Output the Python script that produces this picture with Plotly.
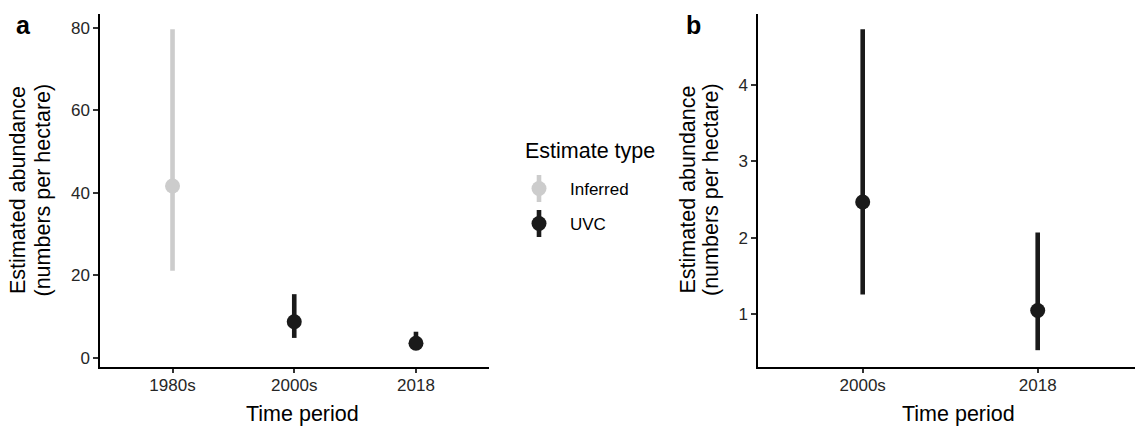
import plotly.graph_objects as go

# ---- data ----
periods_a = ["1980s", "2000s", "2018"]
types_a = ["Inferred", "UVC", "UVC"]
est_a = [41.6, 8.7, 3.5]
upper_a = [79.6, 15.4, 6.3]
lower_a = [21.1, 4.8, 2.0]

periods_b = ["2000s", "2018"]
est_b = [2.47, 1.05]
upper_b = [4.73, 2.07]
lower_b = [1.26, 0.53]

ticks_a = [0, 20, 40, 60, 80]
ticks_b = [1, 2, 3, 4]

legend_labels = ["Inferred", "UVC"]
colors = {"Inferred": "#CCCCCC", "UVC": "#1A1A1A"}

FONT = "Liberation Sans, Arial, sans-serif"
W, H = 1135, 427

fig = go.Figure()

# panel a: one trace per estimate type
for t in legend_labels:
    idx = [i for i, tt in enumerate(types_a) if tt == t]
    fig.add_trace(go.Scatter(
        x=[periods_a[i] for i in idx],
        y=[est_a[i] for i in idx],
        mode="markers",
        marker=dict(size=15, color=colors[t]),
        error_y=dict(type="data", symmetric=False,
                     array=[upper_a[i] - est_a[i] for i in idx],
                     arrayminus=[est_a[i] - lower_a[i] for i in idx],
                     width=0, thickness=4.6, color=colors[t]),
        showlegend=False, xaxis="x", yaxis="y", hoverinfo="skip"))

# panel b
fig.add_trace(go.Scatter(
    x=periods_b, y=est_b, mode="markers",
    marker=dict(size=15, color=colors["UVC"]),
    error_y=dict(type="data", symmetric=False,
                 array=[u - e for u, e in zip(upper_b, est_b)],
                 arrayminus=[e - l for e, l in zip(est_b, lower_b)],
                 width=0, thickness=4.6, color=colors["UVC"]),
    showlegend=False, xaxis="x2", yaxis="y2", hoverinfo="skip"))

def px(x):
    return x / W

def py(y):
    return 1 - y / H

ydom = [py(367), py(14)]
axis_common = dict(showline=True, linecolor="#000000", linewidth=1.5,
                   ticks="outside", ticklen=4.5, tickwidth=1.5, tickcolor="#333333",
                   tickfont=dict(family=FONT, size=17, color="#262626"),
                   showgrid=False, zeroline=False)

fig.update_layout(
    width=W, height=H,
    margin=dict(l=0, r=0, t=0, b=0),
    paper_bgcolor="white", plot_bgcolor="white",
    xaxis=dict(domain=[px(99.5), px(489)], type="category",
               categoryorder="array", categoryarray=periods_a,
               range=[-0.6, 2.6], anchor="y", ticklabelstandoff=-3, **axis_common),
    yaxis=dict(domain=ydom, range=[-2.25, 83.3], tickvals=ticks_a,
               anchor="x", **axis_common),
    xaxis2=dict(domain=[px(757.7), 1.0], type="category",
                categoryorder="array", categoryarray=periods_b,
                range=[-0.6, 1.556], anchor="y2", ticklabelstandoff=-3, **axis_common),
    yaxis2=dict(domain=ydom, range=[0.31, 4.93], tickvals=ticks_b,
                anchor="x2", **axis_common),
    showlegend=False,
)

ann = []
def text(x, y, s, size, angle=0, bold=False, xanchor="center", color="#000000"):
    ann.append(dict(x=px(x), y=py(y), xref="paper", yref="paper", text=("<b>%s</b>" % s) if bold else s,
                    showarrow=False, textangle=angle, xanchor=xanchor, yanchor="middle",
                    font=dict(family=FONT, size=size, color=color)))

# panel tags
text(23.7, 24.6, "a", 25, bold=True)
text(693, 24.6, "b", 25, bold=True)

# y titles
text(18, 190, "Estimated abundance", 21.5, angle=-90)
text(42.5, 190, "(numbers per hectare)", 21.5, angle=-90)
text(687.5, 190, "Estimated abundance", 21.5, angle=-90)
text(711, 190, "(numbers per hectare)", 21.5, angle=-90)

# x titles
text(302, 414, "Time period", 21.5)
text(958, 414, "Time period", 21.5)

# legend
text(523, 150.5, "Estimate type", 21.5, xanchor="left")
leg_y = [188.5, 223.5]
shapes = []
for lab, yy in zip(legend_labels, leg_y):
    text(568, yy + 0.5, lab, 17, xanchor="left")
    c = colors[lab]
    shapes.append(dict(type="line", xref="paper", yref="paper",
                       x0=px(539), x1=px(539), y0=py(yy - 13.5), y1=py(yy + 13.5),
                       line=dict(color=c, width=4.6)))
    shapes.append(dict(type="circle", xref="paper", yref="paper",
                       x0=px(539 - 7.5), x1=px(539 + 7.5), y0=py(yy + 7.5), y1=py(yy - 7.5),
                       fillcolor=c, line=dict(color=c, width=0)))

fig.update_layout(annotations=ann, shapes=shapes)
fig.write_html("out.html", config={"displayModeBar": False},
               post_script="document.body.style.margin='0';document.body.style.overflow='hidden';")
